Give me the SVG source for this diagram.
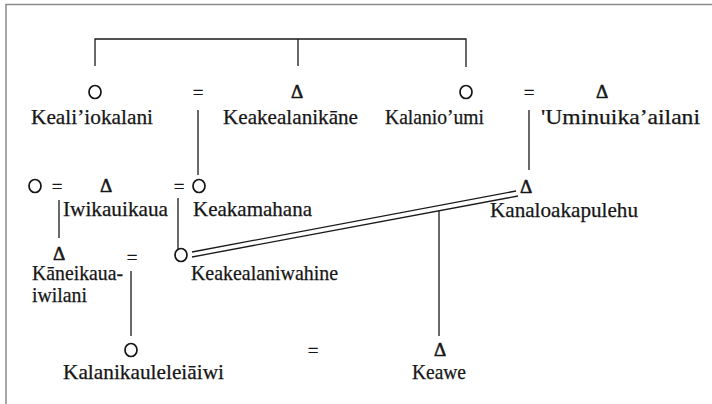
<svg xmlns="http://www.w3.org/2000/svg" width="712" height="404" viewBox="0 0 712 404">
  <style>
    .lbl { font-family: "Liberation Serif", "Times New Roman", serif; font-size: 21px; fill: #161616; stroke: #161616; stroke-width: 0.25; }
    .sym { font-family: "Liberation Serif", "Times New Roman", serif; font-size: 19px; fill: #161616; stroke: #161616; stroke-width: 0.6; text-anchor: middle; }
    .eq { font-family: "Liberation Serif", "Times New Roman", serif; font-size: 19px; fill: #161616; stroke: #161616; stroke-width: 0.3; text-anchor: middle; }
    .f { fill: none; stroke: #161616; stroke-width: 1.7; }
    .ln { stroke: #1a1a1a; stroke-width: 1.3; fill: none; }
    .frame { stroke: #8a8a8a; stroke-width: 1.5; fill: none; }
  </style>

  <rect width="712" height="404" fill="#ffffff"/>

  <!-- frame: top and left rules only -->
  <path class="frame" d="M6 404 V4.5 H712"/>

  <!-- connectors: sibling bracket, descent lines, marriage signs -->
  <g id="connectors">
    <path class="ln" d="M95 66 V39 H466 V67 M298 39 V66"/>
    <path class="ln" d="M198 110 V175"/>
    <path class="ln" d="M529 110 V170"/>
    <path class="ln" d="M59 200 V238"/>
    <path class="ln" d="M178 198 V250"/>
    <path class="ln" d="M131 271 V336"/>
    <!-- double marriage line -->
    <path class="ln" d="M192 252 L516 191 M192 257 L518 196"/>
    <path class="ln" d="M439 211 V336"/>
    <text class="eq" x="198" y="99">=</text>
    <text class="eq" x="529" y="99">=</text>
    <text class="eq" x="57" y="193">=</text>
    <text class="eq" x="179" y="193">=</text>
    <text class="eq" x="132" y="264">=</text>
    <text class="eq" x="313" y="357">=</text>
  </g>

  <g id="kealiiokalani">
    <ellipse class="f" cx="95" cy="92" rx="6" ry="6.5"/>
    <text class="lbl" x="31" y="124" textLength="122" lengthAdjust="spacingAndGlyphs">Keali’iokalani</text>
  </g>
  <g id="keakealanikane">
    <text class="sym" x="297" y="98">Δ</text>
    <text class="lbl" x="223" y="124" textLength="135" lengthAdjust="spacingAndGlyphs">Keakealanikāne</text>
  </g>
  <g id="kalanioumi">
    <ellipse class="f" cx="466" cy="92" rx="6" ry="6.5"/>
    <text class="lbl" x="385" y="124" textLength="99" lengthAdjust="spacingAndGlyphs">Kalanio’umi</text>
  </g>
  <g id="uminuikaailani">
    <text class="sym" x="602" y="98">Δ</text>
    <text class="lbl" x="541" y="124" textLength="159" lengthAdjust="spacingAndGlyphs">'Uminuika’ailani</text>
  </g>

  <g id="wife-of-iwikauikaua">
    <ellipse class="f" cx="35" cy="186" rx="6" ry="6.5"/>
  </g>
  <g id="iwikauikaua">
    <text class="sym" x="106" y="192">Δ</text>
    <text class="lbl" x="63" y="216" textLength="105" lengthAdjust="spacingAndGlyphs">Iwikauikaua</text>
  </g>
  <g id="keakamahana">
    <ellipse class="f" cx="199" cy="186" rx="6" ry="6.5"/>
    <text class="lbl" x="193" y="216" textLength="119" lengthAdjust="spacingAndGlyphs">Keakamahana</text>
  </g>
  <g id="kanaloakapulehu">
    <text class="sym" x="526" y="193">Δ</text>
    <text class="lbl" x="490" y="217" textLength="148" lengthAdjust="spacingAndGlyphs">Kanaloakapulehu</text>
  </g>

  <g id="kaneikauaiwilani">
    <text class="sym" x="59" y="260">Δ</text>
    <text class="lbl" x="32" y="280" textLength="91" lengthAdjust="spacingAndGlyphs">Kāneikaua-</text>
    <text class="lbl" x="32" y="302" textLength="55" lengthAdjust="spacingAndGlyphs">iwilani</text>
  </g>
  <g id="keakealaniwahine">
    <ellipse class="f" cx="181" cy="255" rx="6" ry="6.5"/>
    <text class="lbl" x="191" y="280" textLength="147" lengthAdjust="spacingAndGlyphs">Keakealaniwahine</text>
  </g>

  <g id="kalanikauleleiaiwi">
    <ellipse class="f" cx="131" cy="350" rx="6" ry="6.5"/>
    <text class="lbl" x="63" y="379" textLength="161" lengthAdjust="spacingAndGlyphs">Kalanikauleleiāiwi</text>
  </g>
  <g id="keawe">
    <text class="sym" x="440" y="356">Δ</text>
    <text class="lbl" x="412" y="379" textLength="54" lengthAdjust="spacingAndGlyphs">Keawe</text>
  </g>
</svg>
